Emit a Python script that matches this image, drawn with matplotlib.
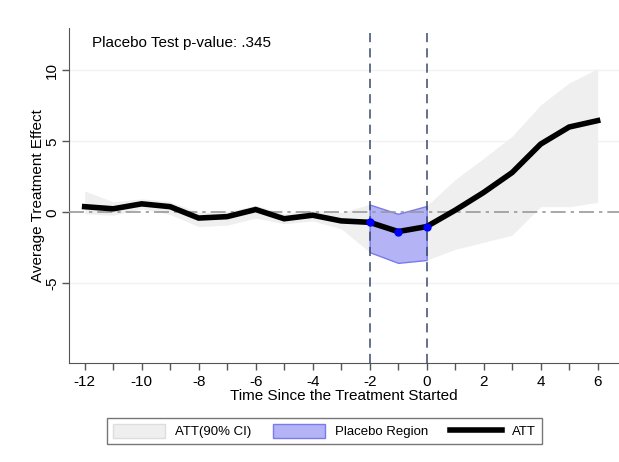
import numpy as np
import matplotlib.pyplot as plt
from matplotlib.patches import Patch
from matplotlib.lines import Line2D

plt.rcParams['font.family'] = ['Liberation Sans', 'DejaVu Sans']
plt.rcParams['axes.unicode_minus'] = False

# event time and estimated effects
periods = [-12, -11, -10, -9, -8, -7, -6, -5, -4, -3, -2, -1, 0, 1, 2, 3, 4, 5, 6]
att = [0.4, 0.25, 0.6, 0.4, -0.4, -0.3, 0.2, -0.45, -0.2, -0.6, -0.7, -1.35, -1.0,
       0.15, 1.4, 2.8, 4.8, 6.0, 6.45]
ci_upper = [1.5, 0.75, 0.95, 0.75, 0.0, 0.05, 0.5, -0.1, 0.15, 0.0, 0.55, -0.1, 0.45,
            2.3, 3.8, 5.35, 7.55, 9.1, 10.1]
ci_lower = [-0.1, -0.2, 0.25, -0.15, -1.0, -0.9, -0.4, -0.8, -0.6, -1.15, -2.8, -3.55, -3.35,
            -2.6, -2.1, -1.6, 0.4, 0.4, 0.7]
placebo = [-2, -1, 0]
p_value = '.345'

x = np.array(periods)
pm = np.isin(x, placebo)

fig = plt.figure(figsize=(6.19, 4.62), dpi=100)
ax = fig.add_axes([0.111, 0.214, 0.889, 0.725])

ax.fill_between(x, ci_lower, ci_upper, color='#efefef', lw=0, zorder=1)
ax.fill_between(x[pm], np.array(ci_lower)[pm], np.array(ci_upper)[pm],
                facecolor='#b3b3f5', edgecolor='#7a7aef', lw=1, zorder=2)
ax.axhline(0, color='#999999', lw=1.2, ls=(0, (9, 3, 2, 3)), zorder=3)
for v in [-2, 0]:
    ax.axvline(v, color='#3a4a6a', lw=1.1, ls=(0, (6, 4)), zorder=3)
ax.plot(x, att, color='black', lw=4, solid_joinstyle='miter', zorder=4)
ax.plot(x[pm], np.array(att)[pm], 'o', color='#0000ff', ms=5, zorder=5)

for g in [-5, 5, 10]:
    ax.axhline(g, color='#f2f2f2', lw=1, zorder=0)

ax.set_xlim(-12.56, 6.75)
ax.set_ylim(-10.6, 12.95)
ax.set_xticks(range(-12, 7, 2))
ax.set_xticks(range(-11, 7, 2), minor=True)
ax.set_yticks([-5, 0, 5, 10])
ax.set_yticklabels(['-5', '0', '5', '10'], rotation=90, va='center')
ax.tick_params(labelsize=11, color='#555555', length=5, width=1)
ax.tick_params(axis='y', pad=2)
ax.tick_params(which='minor', color='#555555', length=5, width=1)
for s in ['top', 'right']:
    ax.spines[s].set_visible(False)
for s in ['left', 'bottom']:
    ax.spines[s].set_color('#555555')

ax.set_xlabel('Time Since the Treatment Started', fontsize=11, labelpad=0)
ax.set_ylabel('Average Treatment Effect', fontsize=11, labelpad=0)
ax.text(-11.75, 11.65, 'Placebo Test p-value: ' + p_value, fontsize=11, va='baseline')

handles = [Patch(facecolor='#efefef', edgecolor='#dddddd'),
           Patch(facecolor='#b3b3f5', edgecolor='#7a7aef'),
           Line2D([0], [0], color='black', lw=4)]
fig.legend(handles, ['ATT(90% CI)', 'Placebo Region', 'ATT'], ncol=3,
           loc='center', bbox_to_anchor=(0.524, 0.067), fontsize=9.5,
           frameon=True, fancybox=False, edgecolor='#555555',
           handlelength=4.0, handleheight=1.35, handletextpad=0.75,
           columnspacing=1.6, borderpad=0.45)

fig.savefig('out.png', dpi=100)
